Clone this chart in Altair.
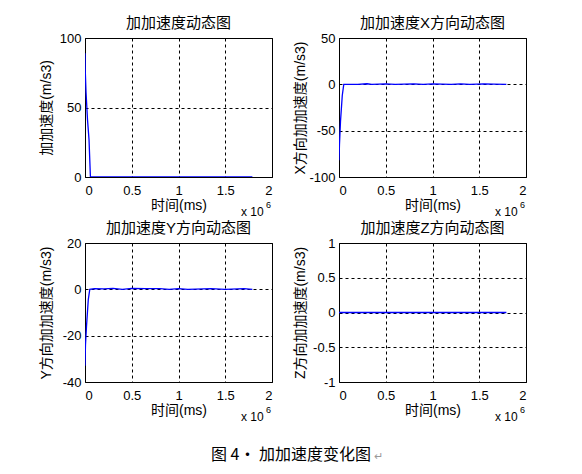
import altair as alt
import pandas as pd

# ---------------- data (time in units of 10^6 ms) ----------------
X_TICKS = [0, 0.5, 1, 1.5, 2]

t_all = [0, 0.002, 0.011, 0.027, 0.043, 0.058, 1.79]
v_all = [89, 78, 61, 41, 27, 0, 0]

t_x = [0, 0.005, 0.016, 0.035, 0.051, 0.2, 0.3, 0.35, 0.5, 0.6, 0.8, 0.9, 1.0, 1.2, 1.3, 1.4, 1.55, 1.65, 1.79]
v_x = [-82, -65, -40, -12, 0, 0, 0.6, 0, 0.5, 0, 0.6, 0, 0.5, 0, 0.6, 0, 0.5, 0.3, 0]

t_y = [0, 0.005, 0.016, 0.035, 0.051, 0.1, 0.2, 0.3, 0.4, 0.5, 0.65, 0.8, 0.9, 1.0, 1.1, 1.35, 1.5, 1.7, 1.79]
v_y = [-33, -24, -16, -4.5, 0, 0.3, 0.2, 0.4, 0, 0.4, 0.3, 0.3, 0, 0.3, 0, 0.3, 0, 0.3, 0]

t_z = [0, 1.79]
v_z = [0, 0]

titles = ["加加速度动态图", "加加速度X方向动态图", "加加速度Y方向动态图", "加加速度Z方向动态图"]
ytitles = ["加加速度(m/s3)", "X方向加加速度(m/s3)", "Y方向加加速度(m/s3)", "Z方向加加速度(m/s3)"]
ydomains = [[0, 100], [-100, 50], [-40, 20], [-1, 1]]
yticks = [[0, 50, 100], [-100, -50, 0, 50], [-40, -20, 0, 20], [-1, -0.5, 0, 0.5, 1]]
x_title = "时间(ms)"
caption = "图 4· 加加速度变化图"

FONT = "Liberation Sans, Arial, Noto Sans CJK SC"
CJK = "Noto Sans CJK SC"
LABEL_EXPR = "datum.value < 0 ? '-' + format(-datum.value, '~g') : format(datum.value, '~g')"

W, H = 187, 139
one = pd.DataFrame({"k": [0]})


def panel(ts, vs, title, ytitle, ydom, yt, extra=None):
    df = pd.DataFrame({"t": ts, "v": vs})
    line = alt.Chart(df).mark_line(color="#0000ff", strokeWidth=1.3, clip=True).encode(
        x=alt.X("t:Q",
                scale=alt.Scale(domain=[0, 2], nice=False, zero=False),
                axis=alt.Axis(values=X_TICKS, title=x_title, labelExpr=LABEL_EXPR,
                              labelPadding=7, minExtent=18, maxExtent=18, titlePadding=3)),
        y=alt.Y("v:Q",
                scale=alt.Scale(domain=ydom, nice=False, zero=False),
                axis=alt.Axis(values=yt, title=ytitle, labelExpr=LABEL_EXPR,
                              labelPadding=4, minExtent=30, maxExtent=30, titlePadding=2)),
    )
    note = alt.Chart(one).mark_text(align="left", baseline="middle", fontSize=12,
                                    font=FONT, color="black").encode(
        x=alt.value(156), y=alt.value(174), text=alt.value("x 10"))
    sup = alt.Chart(one).mark_text(align="left", baseline="middle", fontSize=9,
                                   font=FONT, color="black").encode(
        x=alt.value(181), y=alt.value(167), text=alt.value("6"))
    layers = [line, note, sup]
    if extra:
        layers += extra
    return alt.layer(*layers).properties(
        width=W, height=H,
        title=alt.TitleParams(title, font=FONT, fontSize=15, fontWeight="normal",
                              color="black", offset=1, anchor="middle"))


cap = alt.Chart(one).mark_text(align="left", baseline="middle", fontSize=16,
                               font=CJK, color="black").encode(
    x=alt.value(126), y=alt.value(212), text=alt.value(caption))
cap_mark = alt.Chart(one).mark_text(align="left", baseline="middle", fontSize=11,
                                    font=FONT, color="#999999").encode(
    x=alt.value(289), y=alt.value(214), text=alt.value("↵"))

p1 = panel(t_all, v_all, titles[0], ytitles[0], ydomains[0], yticks[0])
p2 = panel(t_x, v_x, titles[1], ytitles[1], ydomains[1], yticks[1])
p3 = panel(t_y, v_y, titles[2], ytitles[2], ydomains[2], yticks[2], extra=[cap, cap_mark])
p4 = panel(t_z, v_z, titles[3], ytitles[3], ydomains[3], yticks[3])

chart = alt.concat(p1, p2, p3, p4, columns=2, spacing={"row": 66, "column": 67},
                   bounds="flush").properties(
    padding={"left": 30, "top": 7, "right": 5, "bottom": 5},
    background="white",
).configure_view(
    stroke="black", strokeWidth=1
).configure_axis(
    domain=False, ticks=False, grid=True, gridColor="black", gridOpacity=1,
    gridDash=[3, 3], gridWidth=1, zindex=0,
    labelFont=FONT, labelFontSize=13, labelColor="black",
    titleFont=FONT, titleFontSize=14, titleFontWeight="normal", titleColor="black",
)

chart.save("out.html", embed_options={"renderer": "svg", "actions": False})
